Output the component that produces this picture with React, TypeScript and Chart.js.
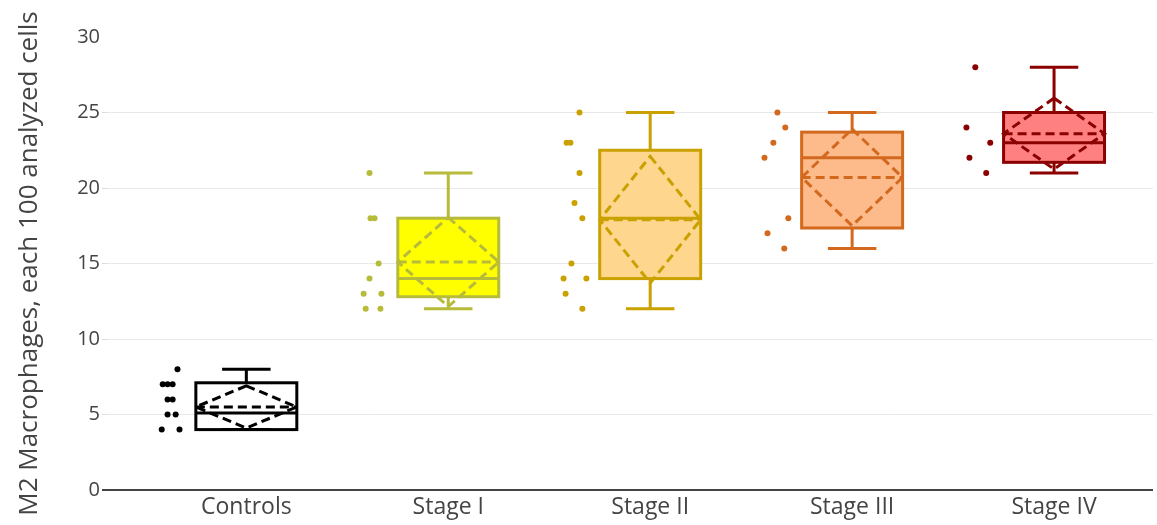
import React, { useEffect, useRef } from "react";
import { Chart, registerables } from "chart.js";

Chart.register(...registerables);

const categories = ["Controls", "Stage I", "Stage II", "Stage III", "Stage IV"];
const whiskerLow = [4, 12, 12, 16, 21];
const q1 = [4, 12.8, 14, 17.35, 21.7];
const median = [5.1, 14, 18, 22, 23];
const q3 = [7.1, 18, 22.5, 23.7, 25];
const whiskerHigh = [8, 21, 25, 25, 28];
const means = [5.5, 15.1, 17.9, 20.7, 23.6];
const sds = [1.4, 2.95, 4.2, 3.2, 2.35];

const controlsPoints = [8, 7, 7, 7, 6, 6, 5, 5, 4, 4];
const stageIPoints = [21, 18, 18, 15, 14, 13, 13, 12, 12];
const stageIIPoints = [25, 23, 23, 21, 19, 18, 15, 14, 14, 13, 12];
const stageIIIPoints = [25, 24, 23, 22, 18, 17, 16];
const stageIVPoints = [28, 24, 23, 22, 21];

// jitter of each point, in category units
const controlsJitter = [0.034, -0.039, -0.015, 0.01, -0.015, 0.01, -0.015, 0.025, -0.044, 0.044];
const stageIJitter = [-0.015, -0.01, 0.01, 0.03, -0.015, -0.044, 0.044, -0.034, 0.039];
const stageIIJitter = [0.025, -0.039, -0.02, 0.025, 0, 0.039, -0.015, -0.054, 0.059, -0.044, 0.039];
const stageIIIJitter = [0.005, 0.044, -0.015, -0.059, 0.059, -0.044, 0.039];
const stageIVJitter = [-0.015, -0.059, 0.059, -0.044, 0.039];

const allPoints = [controlsPoints, stageIPoints, stageIIPoints, stageIIIPoints, stageIVPoints];
const allJitter = [controlsJitter, stageIJitter, stageIIJitter, stageIIIJitter, stageIVJitter];

const lineColors = ["#000000", "#b7bb3a", "#c9a100", "#d2691e", "#8b0000"];
const fillColors = ["#ffffff", "#ffff00", "#fed68e", "#fdba8b", "#ff8080"];

const yTickValues = [0, 5, 10, 15, 20, 25, 30];
const yTitle = "M2 Macrophages, each 100 analyzed cells";

const BOX_HALF = 0.25;
const CAP_HALF = 0.12;
const POINT_POS = -0.375;

const boxPlugin = {
  id: "boxes",
  beforeDatasetsDraw(chart: any) {
    const { ctx, scales } = chart;
    const x = scales.x;
    const y = scales.y;
    categories.forEach((_, i) => {
      const cx = x.getPixelForValue(i);
      const hw = x.getPixelForValue(i + BOX_HALF) - cx;
      const ch = x.getPixelForValue(i + CAP_HALF) - cx;
      const yq1 = y.getPixelForValue(q1[i]);
      const yq3 = y.getPixelForValue(q3[i]);
      const ymed = y.getPixelForValue(median[i]);
      const ylo = y.getPixelForValue(whiskerLow[i]);
      const yhi = y.getPixelForValue(whiskerHigh[i]);
      const ymean = y.getPixelForValue(means[i]);
      const ysdHi = y.getPixelForValue(means[i] + sds[i]);
      const ysdLo = y.getPixelForValue(means[i] - sds[i]);
      ctx.save();
      ctx.lineWidth = 3;
      ctx.strokeStyle = lineColors[i];
      ctx.fillStyle = fillColors[i];
      ctx.fillRect(cx - hw, yq3, 2 * hw, yq1 - yq3);
      ctx.beginPath();
      ctx.moveTo(cx, yq3);
      ctx.lineTo(cx, yhi);
      ctx.moveTo(cx - ch, yhi);
      ctx.lineTo(cx + ch, yhi);
      ctx.moveTo(cx, yq1);
      ctx.lineTo(cx, ylo);
      ctx.moveTo(cx - ch, ylo);
      ctx.lineTo(cx + ch, ylo);
      ctx.stroke();
      ctx.strokeRect(cx - hw, yq3, 2 * hw, yq1 - yq3);
      ctx.beginPath();
      ctx.moveTo(cx - hw, ymed);
      ctx.lineTo(cx + hw, ymed);
      ctx.stroke();
      ctx.setLineDash([9, 5]);
      ctx.beginPath();
      ctx.moveTo(cx - hw, ymean);
      ctx.lineTo(cx + hw, ymean);
      ctx.stroke();
      ctx.beginPath();
      ctx.moveTo(cx, ysdHi);
      ctx.lineTo(cx + hw, ymean);
      ctx.lineTo(cx, ysdLo);
      ctx.lineTo(cx - hw, ymean);
      ctx.closePath();
      ctx.stroke();
      ctx.restore();
    });
  },
};

export default function App() {
  const ref = useRef<HTMLCanvasElement | null>(null);
  useEffect(() => {
    if (!ref.current) return;
    Chart.defaults.font.family = "'Open Sans', sans-serif";
    const datasets = categories.map((name, i) => ({
      label: name,
      data: allPoints[i].map((v, k) => ({ x: i + POINT_POS + allJitter[i][k], y: v })),
      backgroundColor: lineColors[i],
      borderColor: lineColors[i],
      pointRadius: 3,
      pointBorderWidth: 0,
    }));
    const chart = new Chart(ref.current, {
      type: "scatter",
      data: { datasets },
      plugins: [boxPlugin],
      options: {
        animation: false,
        responsive: false,
        layout: { padding: { top: 37, right: 0, left: 0, bottom: 0 } },
        plugins: { legend: { display: false }, tooltip: { enabled: false } },
        scales: {
          x: {
            type: "linear",
            min: -0.69,
            max: 4.49,
            afterBuildTicks: (s: any) => {
              s.ticks = categories.map((_, i) => ({ value: i }));
            },
            afterFit: (s: any) => {
              s.height = 35;
            },
            ticks: {
              callback: (v: any) => categories[v] ?? "",
              color: "#444",
              font: { size: 23 },
              padding: 4,
              maxRotation: 0,
              autoSkip: false,
            },
            grid: { display: false, drawTicks: false },
            border: { display: false },
          },
          y: {
            min: 0,
            max: 30,
            afterBuildTicks: (s: any) => {
              s.ticks = yTickValues.map((v) => ({ value: v }));
            },
            afterFit: (s: any) => {
              s.width = 107;
            },
            ticks: { color: "#444", font: { size: 20 }, padding: 2 },
            grid: {
              color: (c: any) => (c.tick && c.tick.value === 0 ? "#444" : c.tick && c.tick.value === 30 ? "rgba(0,0,0,0)" : "#e8e8e8"),
              tickColor: (c: any) => (c.tick && c.tick.value === 0 ? "#444" : c.tick && c.tick.value === 30 ? "rgba(0,0,0,0)" : "#dcdcdc"),
              lineWidth: (c: any) => (c.tick && c.tick.value === 0 ? 2 : 1),
              tickLength: 5,
            },
            border: { display: false },
            title: {
              display: true,
              text: yTitle,
              color: "#444",
              font: { size: 26 },
              padding: { top: 14, bottom: 0 },
            },
          },
        },
      },
    } as any);
    return () => chart.destroy();
  }, []);
  return (
    <div style={{ position: "fixed", left: 0, top: 0, width: 1157, height: 525, background: "#fff" }}>
      <canvas ref={ref} width={1157} height={525} style={{ display: "block" }} />
    </div>
  );
}
